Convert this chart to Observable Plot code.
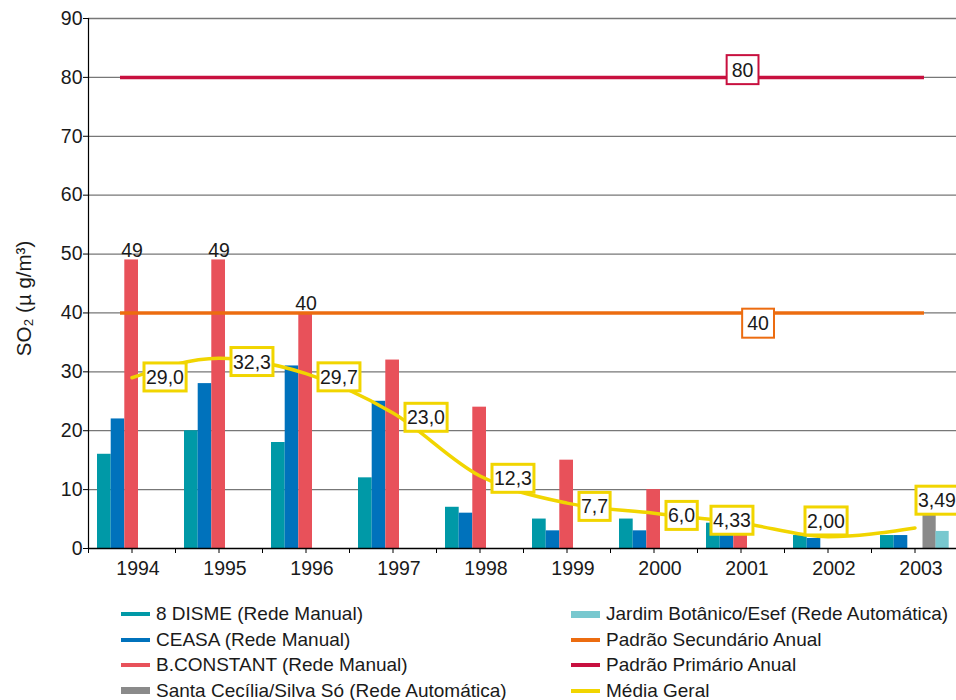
<!DOCTYPE html>
<html>
<head>
<meta charset="utf-8">
<script src="https://cdn.jsdelivr.net/npm/d3@7"></script>
<script src="https://cdn.jsdelivr.net/npm/@observablehq/plot@0.6"></script>
<style>
  html, body { margin: 0; padding: 0; background: #fff; overflow: hidden; }
  #wrap { position: relative; width: 956px; height: 700px; font-family: "Liberation Sans", Arial, sans-serif; }
  #chart svg { max-width: none !important; display: block; }
  #legend { position: absolute; left: 0; top: 0; width: 956px; height: 700px; }
  .item { position: absolute; height: 26px; line-height: 26px; font-size: 19px; color: #1a1a1a; white-space: nowrap; }
  .sw { position: absolute; }
</style>
</head>
<body>
<div id="wrap"><div id="chart"></div><div id="legend"></div></div>
<script>
// ---------- DATA ----------
const years = [1994, 1995, 1996, 1997, 1998, 1999, 2000, 2001, 2002, 2003];
const disme        = [16, 20, 18, 12, 7, 5, 5, 4.3, 2.2, 2.2];
const ceasa        = [22, 28, 31, 25, 6, 3, 3, 2.2, 1.7, 2.2];
const bconstant    = [49, 49, 40, 32, 24, 15, 10, 7, null, null];
const santaCecilia = [null, null, null, null, null, null, null, null, null, 5.6];
const jardim       = [null, null, null, null, null, null, null, null, null, 2.9];
const mediaGeral   = [29.0, 32.3, 29.7, 23.0, 12.3, 7.7, 6.0, 4.33, 2.00, 3.49];
const mediaLabels  = ["29,0", "32,3", "29,7", "23,0", "12,3", "7,7", "6,0", "4,33", "2,00", "3,49"];
const bconstantLabels = ["49", "49", "40", null, null, null, null, null, null, null];
const padraoPrimario = 80;
const padraoSecundario = 40;
const padraoLabelYear = 2001;
const yTicks = [0, 10, 20, 30, 40, 50, 60, 70, 80, 90];
const yTitle = "SO₂ (µ g/m³)";
const seriesNames = [
  "8 DISME (Rede Manual)",
  "CEASA (Rede Manual)",
  "B.CONSTANT (Rede Manual)",
  "Santa Cecília/Silva Só (Rede Automática)",
  "Jardim Botânico/Esef (Rede Automática)",
  "Padrão Secundário Anual",
  "Padrão Primário Anual",
  "Média Geral"
];

// ---------- STYLE ----------
const colors = {
  disme: "#0099a7", ceasa: "#0072bc", bconstant: "#e8515a",
  santa: "#8a8a8a", jardim: "#78c8cf",
  secundario: "#ec6c10", primario: "#c8103f", media: "#f1d500"
};
const W = 958, ML = 88, MR = 0, MT = 18, MB = 42, H = 590;
const band = (W - ML - MR) / years.length;
// bar slot within each year band: [start px, width px]
const slots = [[9, 13.7], [22.7, 13.6], [36.3, 13.7], [51.5, 13.2], [64.5, 13.2]];
// label offsets (px) for the Média Geral boxes
const mediaOffsets = [[14, 0], [14, 4], [14, 4], [14, 5], [14, 3], [14, 4], [14, 3], [-28, -2], [-21, -15], [3, -27]];

function rows(values, extra) {
  return years.map((y, i) => ({year: y, value: values[i], label: extra ? extra[i] : null}))
              .filter(d => d.value != null);
}
function bars(values, k, color) {
  const [s, w] = slots[k];
  return Plot.rectY(rows(values), {
    x1: d => d.year - 0.5, x2: d => d.year + 0.5, y: "value",
    fill: color, insetLeft: s, insetRight: band - s - w
  });
}

const mediaData = rows(mediaGeral, mediaLabels);
const boundaries = years.map(y => y - 0.5).concat([years[years.length - 1] + 0.5]);
const lineInsetL = 32, lineInsetR = W - ML - MR - 836;

const chart = Plot.plot({
  width: W, height: H,
  marginLeft: ML, marginRight: MR, marginTop: MT, marginBottom: MB,
  style: {fontFamily: "'Liberation Sans', Arial, sans-serif", fontSize: "19.5px", color: "#1a1a1a", overflow: "visible"},
  x: {type: "linear", domain: [years[0] - 0.5, years[years.length - 1] + 0.5], label: null},
  y: {domain: [0, 90], label: null},
  marks: [
    Plot.ruleY(yTicks.filter(v => v > 0), {stroke: "#777", strokeWidth: 1.3}),
    bars(disme, 0, colors.disme),
    bars(ceasa, 1, colors.ceasa),
    bars(bconstant, 2, colors.bconstant),
    bars(santaCecilia, 3, colors.santa),
    bars(jardim, 4, colors.jardim),
    Plot.ruleY([0], {stroke: "#000", strokeWidth: 1.3}),
    Plot.ruleX([years[0] - 0.5], {y1: 0, y2: 90, stroke: "#000", strokeWidth: 1.2}),
    Plot.axisX(boundaries, {tickSize: 5, tickFormat: () => "", stroke: "#000", label: null}),
    Plot.axisX(years, {tickSize: 5, tickFormat: () => "", stroke: "#000", label: null}),
    Plot.axisX(years, {tickSize: 0, tickPadding: 13, dx: 6, tickFormat: d => String(d), fontSize: 19.5, label: null}),
    Plot.axisY(yTicks, {tickSize: 5, tickPadding: 1, stroke: "#000", fontSize: 19.5, label: null}),
    Plot.ruleY([padraoSecundario], {stroke: colors.secundario, strokeWidth: 3.5, insetLeft: lineInsetL, insetRight: lineInsetR}),
    Plot.ruleY([padraoPrimario], {stroke: colors.primario, strokeWidth: 3.5, insetLeft: lineInsetL, insetRight: lineInsetR}),
    Plot.line(mediaData, {x: "year", y: "value", stroke: colors.media, strokeWidth: 3.5, curve: "monotone-x"}),
    Plot.text([yTitle], {frameAnchor: "left", textAnchor: "middle", dx: -64, dy: 15, rotate: -90, fontSize: 20.5, fill: "#1a1a1a"}),
    Plot.text(rows(bconstant, bconstantLabels).filter(d => d.label), {
      x: "year", y: "value", text: "label", lineAnchor: "bottom", dy: -3, fontSize: 19.5, fill: "#1a1a1a"
    }),
    Plot.text([padraoPrimario], {x: () => padraoLabelYear, y: d => d, text: d => String(d), dx: 1.5, dy: -7, fontSize: 19.5, fill: "#1a1a1a"}),
    Plot.text([padraoSecundario], {x: () => padraoLabelYear, y: d => d, text: d => String(d), dx: 17, dy: 11, fontSize: 19.5, fill: "#1a1a1a"}),
    ...mediaData.map((d, i) => Plot.text([d], {
      x: "year", y: "value", text: "label", textAnchor: "start",
      dx: mediaOffsets[i][0], dy: mediaOffsets[i][1], fontSize: 19.5, fill: "#1a1a1a"
    }))
  ]
});

document.getElementById("chart").append(chart);

// ---------- boxes behind value labels ----------
const svgNS = "http://www.w3.org/2000/svg";
function boxText(el, stroke, sw, px, py) {
  const bb = el.getBBox();
  const r = document.createElementNS(svgNS, "rect");
  r.setAttribute("x", bb.x - px);
  r.setAttribute("y", bb.y - py);
  r.setAttribute("width", bb.width + 2 * px);
  r.setAttribute("height", bb.height + 2 * py);
  r.setAttribute("fill", "#fff");
  r.setAttribute("stroke", stroke);
  r.setAttribute("stroke-width", sw);
  const t = el.getAttribute("transform");
  if (t) r.setAttribute("transform", t);
  el.parentNode.insertBefore(r, el);
}
const groups = Array.from(chart.querySelectorAll('g[aria-label="text"]'));
const stdGroups = [];
groups.forEach(g => {
  const texts = Array.from(g.querySelectorAll("text"));
  const contents = texts.map(t => t.textContent);
  if (contents.length === 1 && mediaLabels.includes(contents[0])) {
    boxText(texts[0], colors.media, 3, 2, 3);
  } else if (contents.length === 1 && (contents[0] === String(padraoPrimario) || contents[0] === String(padraoSecundario))) {
    stdGroups.push(texts[0]);
  }
});
stdGroups.forEach(t => boxText(t, t.textContent === String(padraoPrimario) ? colors.primario : colors.secundario, 2, 5, 3.5));

// ---------- legend ----------
const legendColors = [colors.disme, colors.ceasa, colors.bconstant, colors.santa, colors.jardim, colors.secundario, colors.primario, colors.media];
const legendThick = [4, 4, 4, 7, 7, 4, 4, 4];
const legendCols = [{sx: 121, tx: 156}, {sx: 571, tx: 606}];
const rowCenters = [614, 639.5, 665, 690.5];
const legend = document.getElementById("legend");
seriesNames.forEach((name, i) => {
  const col = legendCols[Math.floor(i / 4)];
  const cy = rowCenters[i % 4];
  const sw = document.createElement("div");
  sw.className = "sw";
  sw.style.left = col.sx + "px";
  sw.style.width = "29px";
  sw.style.height = legendThick[i] + "px";
  sw.style.top = (cy - legendThick[i] / 2) + "px";
  sw.style.background = legendColors[i];
  legend.append(sw);
  const it = document.createElement("div");
  it.className = "item";
  it.style.left = col.tx + "px";
  it.style.top = (cy - 13) + "px";
  it.textContent = name;
  legend.append(it);
});
</script>
</body>
</html>
